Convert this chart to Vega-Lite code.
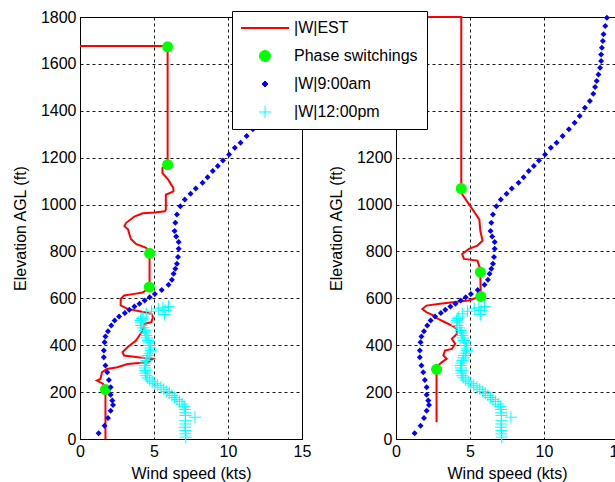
{
  "$schema": "https://vega.github.io/schema/vega-lite/v6.json",
  "background": "white",
  "padding": {"left": 11, "top": 8, "right": 0, "bottom": 0},
  "spacing": 15,
  "datasets": {
    "d": [
      {"p":"L","s":"|W|EST","i":1,"x":0,"y":1676},
      {"p":"L","s":"|W|EST","i":2,"x":5.92,"y":1676},
      {"p":"L","s":"|W|EST","i":3,"x":5.92,"y":1170},
      {"p":"L","s":"|W|EST","i":4,"x":5.57,"y":1156},
      {"p":"L","s":"|W|EST","i":5,"x":5.57,"y":1134},
      {"p":"L","s":"|W|EST","i":6,"x":5.96,"y":1106},
      {"p":"L","s":"|W|EST","i":7,"x":6.31,"y":1070},
      {"p":"L","s":"|W|EST","i":8,"x":6.31,"y":1056},
      {"p":"L","s":"|W|EST","i":9,"x":5.8,"y":1042},
      {"p":"L","s":"|W|EST","i":10,"x":5.8,"y":978},
      {"p":"L","s":"|W|EST","i":11,"x":5.73,"y":971},
      {"p":"L","s":"|W|EST","i":12,"x":5.05,"y":966},
      {"p":"L","s":"|W|EST","i":13,"x":4.24,"y":963},
      {"p":"L","s":"|W|EST","i":14,"x":3.67,"y":949},
      {"p":"L","s":"|W|EST","i":15,"x":3.1,"y":921},
      {"p":"L","s":"|W|EST","i":16,"x":3.0,"y":908},
      {"p":"L","s":"|W|EST","i":17,"x":3.25,"y":893},
      {"p":"L","s":"|W|EST","i":18,"x":3.33,"y":875},
      {"p":"L","s":"|W|EST","i":19,"x":3.44,"y":853},
      {"p":"L","s":"|W|EST","i":20,"x":3.78,"y":832},
      {"p":"L","s":"|W|EST","i":21,"x":4.47,"y":815},
      {"p":"L","s":"|W|EST","i":22,"x":4.7,"y":796},
      {"p":"L","s":"|W|EST","i":23,"x":4.7,"y":647},
      {"p":"L","s":"|W|EST","i":24,"x":4.24,"y":625},
      {"p":"L","s":"|W|EST","i":25,"x":3.56,"y":618},
      {"p":"L","s":"|W|EST","i":26,"x":2.98,"y":612},
      {"p":"L","s":"|W|EST","i":27,"x":2.75,"y":598},
      {"p":"L","s":"|W|EST","i":28,"x":2.75,"y":570},
      {"p":"L","s":"|W|EST","i":29,"x":3.21,"y":555},
      {"p":"L","s":"|W|EST","i":30,"x":4.36,"y":541},
      {"p":"L","s":"|W|EST","i":31,"x":4.82,"y":534},
      {"p":"L","s":"|W|EST","i":32,"x":4.93,"y":520},
      {"p":"L","s":"|W|EST","i":33,"x":4.82,"y":498},
      {"p":"L","s":"|W|EST","i":34,"x":4.36,"y":491},
      {"p":"L","s":"|W|EST","i":35,"x":4.24,"y":463},
      {"p":"L","s":"|W|EST","i":36,"x":3.78,"y":420},
      {"p":"L","s":"|W|EST","i":37,"x":3.21,"y":391},
      {"p":"L","s":"|W|EST","i":38,"x":2.87,"y":370},
      {"p":"L","s":"|W|EST","i":39,"x":2.98,"y":356},
      {"p":"L","s":"|W|EST","i":40,"x":3.9,"y":349},
      {"p":"L","s":"|W|EST","i":41,"x":4.93,"y":342},
      {"p":"L","s":"|W|EST","i":42,"x":4.59,"y":327},
      {"p":"L","s":"|W|EST","i":43,"x":3.21,"y":320},
      {"p":"L","s":"|W|EST","i":44,"x":2.52,"y":306},
      {"p":"L","s":"|W|EST","i":45,"x":1.83,"y":299},
      {"p":"L","s":"|W|EST","i":46,"x":1.49,"y":285},
      {"p":"L","s":"|W|EST","i":47,"x":1.38,"y":256},
      {"p":"L","s":"|W|EST","i":48,"x":1.15,"y":249},
      {"p":"L","s":"|W|EST","i":49,"x":1.38,"y":242},
      {"p":"L","s":"|W|EST","i":50,"x":1.56,"y":235},
      {"p":"L","s":"|W|EST","i":51,"x":1.72,"y":214},
      {"p":"L","s":"|W|EST","i":52,"x":1.72,"y":0},
      {"p":"R","s":"|W|EST","i":1,"x":0,"y":1800},
      {"p":"R","s":"|W|EST","i":2,"x":4.41,"y":1800},
      {"p":"R","s":"|W|EST","i":3,"x":4.41,"y":1068},
      {"p":"R","s":"|W|EST","i":4,"x":4.48,"y":1043},
      {"p":"R","s":"|W|EST","i":5,"x":4.94,"y":1001},
      {"p":"R","s":"|W|EST","i":6,"x":5.63,"y":937},
      {"p":"R","s":"|W|EST","i":7,"x":5.7,"y":887},
      {"p":"R","s":"|W|EST","i":8,"x":5.85,"y":846},
      {"p":"R","s":"|W|EST","i":9,"x":5.5,"y":825},
      {"p":"R","s":"|W|EST","i":10,"x":4.93,"y":811},
      {"p":"R","s":"|W|EST","i":11,"x":4.47,"y":789},
      {"p":"R","s":"|W|EST","i":12,"x":4.59,"y":768},
      {"p":"R","s":"|W|EST","i":13,"x":5.5,"y":761},
      {"p":"R","s":"|W|EST","i":14,"x":5.69,"y":725},
      {"p":"R","s":"|W|EST","i":15,"x":5.69,"y":712},
      {"p":"R","s":"|W|EST","i":16,"x":5.73,"y":609},
      {"p":"R","s":"|W|EST","i":17,"x":4.91,"y":591},
      {"p":"R","s":"|W|EST","i":18,"x":4.0,"y":584},
      {"p":"R","s":"|W|EST","i":19,"x":2.97,"y":577},
      {"p":"R","s":"|W|EST","i":20,"x":2.05,"y":569},
      {"p":"R","s":"|W|EST","i":21,"x":1.78,"y":555},
      {"p":"R","s":"|W|EST","i":22,"x":2.05,"y":541},
      {"p":"R","s":"|W|EST","i":23,"x":2.51,"y":527},
      {"p":"R","s":"|W|EST","i":24,"x":2.85,"y":512},
      {"p":"R","s":"|W|EST","i":25,"x":3.31,"y":498},
      {"p":"R","s":"|W|EST","i":26,"x":3.77,"y":484},
      {"p":"R","s":"|W|EST","i":27,"x":4.11,"y":470},
      {"p":"R","s":"|W|EST","i":28,"x":4.11,"y":448},
      {"p":"R","s":"|W|EST","i":29,"x":3.77,"y":427},
      {"p":"R","s":"|W|EST","i":30,"x":4.0,"y":406},
      {"p":"R","s":"|W|EST","i":31,"x":3.77,"y":384},
      {"p":"R","s":"|W|EST","i":32,"x":3.31,"y":377},
      {"p":"R","s":"|W|EST","i":33,"x":3.2,"y":356},
      {"p":"R","s":"|W|EST","i":34,"x":3.42,"y":342},
      {"p":"R","s":"|W|EST","i":35,"x":3.08,"y":327},
      {"p":"R","s":"|W|EST","i":36,"x":2.85,"y":313},
      {"p":"R","s":"|W|EST","i":37,"x":2.74,"y":297},
      {"p":"R","s":"|W|EST","i":38,"x":2.74,"y":71},
      {"p":"L","s":"Phase switchings","x":5.92,"y":1673},
      {"p":"L","s":"Phase switchings","x":5.92,"y":1170},
      {"p":"L","s":"Phase switchings","x":4.7,"y":792},
      {"p":"L","s":"Phase switchings","x":4.68,"y":648},
      {"p":"L","s":"Phase switchings","x":1.72,"y":211},
      {"p":"R","s":"Phase switchings","x":4.41,"y":1068},
      {"p":"R","s":"Phase switchings","x":5.7,"y":712},
      {"p":"R","s":"Phase switchings","x":5.73,"y":608},
      {"p":"R","s":"Phase switchings","x":2.74,"y":297},
      {"p":"A","s":"|W|9:00am","x":1.26,"y":24},
      {"p":"A","s":"|W|9:00am","x":1.66,"y":57},
      {"p":"A","s":"|W|9:00am","x":1.89,"y":90},
      {"p":"A","s":"|W|9:00am","x":2.07,"y":121},
      {"p":"A","s":"|W|9:00am","x":2.23,"y":145},
      {"p":"A","s":"|W|9:00am","x":2.18,"y":164},
      {"p":"A","s":"|W|9:00am","x":2.07,"y":189},
      {"p":"A","s":"|W|9:00am","x":2.07,"y":221},
      {"p":"A","s":"|W|9:00am","x":1.95,"y":252},
      {"p":"A","s":"|W|9:00am","x":1.84,"y":285},
      {"p":"A","s":"|W|9:00am","x":1.72,"y":313},
      {"p":"A","s":"|W|9:00am","x":1.61,"y":349},
      {"p":"A","s":"|W|9:00am","x":1.61,"y":377},
      {"p":"A","s":"|W|9:00am","x":1.66,"y":413},
      {"p":"A","s":"|W|9:00am","x":1.72,"y":437},
      {"p":"A","s":"|W|9:00am","x":1.89,"y":460},
      {"p":"A","s":"|W|9:00am","x":2.11,"y":484},
      {"p":"A","s":"|W|9:00am","x":2.34,"y":505},
      {"p":"A","s":"|W|9:00am","x":2.64,"y":522},
      {"p":"A","s":"|W|9:00am","x":3.03,"y":537},
      {"p":"A","s":"|W|9:00am","x":3.33,"y":551},
      {"p":"A","s":"|W|9:00am","x":3.68,"y":565},
      {"p":"A","s":"|W|9:00am","x":4.02,"y":577},
      {"p":"A","s":"|W|9:00am","x":4.37,"y":591},
      {"p":"A","s":"|W|9:00am","x":4.71,"y":605},
      {"p":"A","s":"|W|9:00am","x":5.06,"y":619},
      {"p":"A","s":"|W|9:00am","x":5.52,"y":636},
      {"p":"A","s":"|W|9:00am","x":5.98,"y":658},
      {"p":"A","s":"|W|9:00am","x":6.21,"y":679},
      {"p":"A","s":"|W|9:00am","x":6.32,"y":705},
      {"p":"A","s":"|W|9:00am","x":6.44,"y":726},
      {"p":"A","s":"|W|9:00am","x":6.55,"y":747},
      {"p":"A","s":"|W|9:00am","x":6.62,"y":776},
      {"p":"A","s":"|W|9:00am","x":6.67,"y":811},
      {"p":"A","s":"|W|9:00am","x":6.67,"y":840},
      {"p":"A","s":"|W|9:00am","x":6.5,"y":864},
      {"p":"A","s":"|W|9:00am","x":6.39,"y":887},
      {"p":"A","s":"|W|9:00am","x":6.44,"y":922},
      {"p":"A","s":"|W|9:00am","x":6.55,"y":958},
      {"p":"A","s":"|W|9:00am","x":6.78,"y":993},
      {"p":"A","s":"|W|9:00am","x":7.08,"y":1022},
      {"p":"A","s":"|W|9:00am","x":7.47,"y":1046},
      {"p":"A","s":"|W|9:00am","x":7.82,"y":1069},
      {"p":"A","s":"|W|9:00am","x":8.28,"y":1093},
      {"p":"A","s":"|W|9:00am","x":8.62,"y":1117},
      {"p":"A","s":"|W|9:00am","x":8.97,"y":1143},
      {"p":"A","s":"|W|9:00am","x":9.31,"y":1164},
      {"p":"A","s":"|W|9:00am","x":9.66,"y":1188},
      {"p":"A","s":"|W|9:00am","x":10.07,"y":1214},
      {"p":"A","s":"|W|9:00am","x":10.46,"y":1242},
      {"p":"A","s":"|W|9:00am","x":10.85,"y":1264},
      {"p":"A","s":"|W|9:00am","x":11.26,"y":1292},
      {"p":"A","s":"|W|9:00am","x":11.68,"y":1321},
      {"p":"A","s":"|W|9:00am","x":12.07,"y":1349},
      {"p":"A","s":"|W|9:00am","x":12.41,"y":1378},
      {"p":"A","s":"|W|9:00am","x":12.76,"y":1413},
      {"p":"A","s":"|W|9:00am","x":13.1,"y":1442},
      {"p":"A","s":"|W|9:00am","x":13.33,"y":1473},
      {"p":"A","s":"|W|9:00am","x":13.45,"y":1501},
      {"p":"A","s":"|W|9:00am","x":13.56,"y":1527},
      {"p":"A","s":"|W|9:00am","x":13.68,"y":1555},
      {"p":"A","s":"|W|9:00am","x":13.79,"y":1584},
      {"p":"A","s":"|W|9:00am","x":13.86,"y":1612},
      {"p":"A","s":"|W|9:00am","x":13.86,"y":1640},
      {"p":"A","s":"|W|9:00am","x":13.91,"y":1669},
      {"p":"A","s":"|W|9:00am","x":13.98,"y":1698},
      {"p":"A","s":"|W|9:00am","x":14.02,"y":1726},
      {"p":"A","s":"|W|9:00am","x":14.14,"y":1762},
      {"p":"A","s":"|W|9:00am","x":14.25,"y":1797},
      {"p":"A","s":"|W|12:00pm","x":7.15,"y":8},
      {"p":"A","s":"|W|12:00pm","x":7.12,"y":22},
      {"p":"A","s":"|W|12:00pm","x":7.12,"y":36},
      {"p":"A","s":"|W|12:00pm","x":7.1,"y":50},
      {"p":"A","s":"|W|12:00pm","x":7.12,"y":64},
      {"p":"A","s":"|W|12:00pm","x":7.12,"y":78},
      {"p":"A","s":"|W|12:00pm","x":7.77,"y":93},
      {"p":"A","s":"|W|12:00pm","x":7.13,"y":100},
      {"p":"A","s":"|W|12:00pm","x":7.12,"y":112},
      {"p":"A","s":"|W|12:00pm","x":7.1,"y":126},
      {"p":"A","s":"|W|12:00pm","x":7.05,"y":138},
      {"p":"A","s":"|W|12:00pm","x":6.9,"y":149},
      {"p":"A","s":"|W|12:00pm","x":6.72,"y":160},
      {"p":"A","s":"|W|12:00pm","x":6.55,"y":168},
      {"p":"A","s":"|W|12:00pm","x":6.38,"y":177},
      {"p":"A","s":"|W|12:00pm","x":6.21,"y":186},
      {"p":"A","s":"|W|12:00pm","x":6.03,"y":195},
      {"p":"A","s":"|W|12:00pm","x":5.86,"y":203},
      {"p":"A","s":"|W|12:00pm","x":5.66,"y":212},
      {"p":"A","s":"|W|12:00pm","x":5.47,"y":221},
      {"p":"A","s":"|W|12:00pm","x":5.25,"y":229},
      {"p":"A","s":"|W|12:00pm","x":5.06,"y":236},
      {"p":"A","s":"|W|12:00pm","x":4.88,"y":244},
      {"p":"A","s":"|W|12:00pm","x":4.71,"y":252},
      {"p":"A","s":"|W|12:00pm","x":4.58,"y":261},
      {"p":"A","s":"|W|12:00pm","x":4.48,"y":270},
      {"p":"A","s":"|W|12:00pm","x":4.42,"y":281},
      {"p":"A","s":"|W|12:00pm","x":4.41,"y":292},
      {"p":"A","s":"|W|12:00pm","x":4.39,"y":303},
      {"p":"A","s":"|W|12:00pm","x":4.37,"y":313},
      {"p":"A","s":"|W|12:00pm","x":4.42,"y":324},
      {"p":"A","s":"|W|12:00pm","x":4.48,"y":335},
      {"p":"A","s":"|W|12:00pm","x":4.55,"y":346},
      {"p":"A","s":"|W|12:00pm","x":4.6,"y":356},
      {"p":"A","s":"|W|12:00pm","x":4.7,"y":366},
      {"p":"A","s":"|W|12:00pm","x":4.78,"y":377},
      {"p":"A","s":"|W|12:00pm","x":4.76,"y":388},
      {"p":"A","s":"|W|12:00pm","x":4.71,"y":399},
      {"p":"A","s":"|W|12:00pm","x":4.66,"y":410},
      {"p":"A","s":"|W|12:00pm","x":4.6,"y":420},
      {"p":"A","s":"|W|12:00pm","x":4.54,"y":431},
      {"p":"A","s":"|W|12:00pm","x":4.48,"y":441},
      {"p":"A","s":"|W|12:00pm","x":4.42,"y":452},
      {"p":"A","s":"|W|12:00pm","x":4.37,"y":463},
      {"p":"A","s":"|W|12:00pm","x":4.28,"y":474},
      {"p":"A","s":"|W|12:00pm","x":4.14,"y":484},
      {"p":"A","s":"|W|12:00pm","x":4.1,"y":495},
      {"p":"A","s":"|W|12:00pm","x":4.09,"y":505},
      {"p":"A","s":"|W|12:00pm","x":4.18,"y":514},
      {"p":"A","s":"|W|12:00pm","x":4.25,"y":520},
      {"p":"A","s":"|W|12:00pm","x":4.48,"y":534},
      {"p":"A","s":"|W|12:00pm","x":4.83,"y":545},
      {"p":"A","s":"|W|12:00pm","x":5.29,"y":555},
      {"p":"A","s":"|W|12:00pm","x":5.75,"y":548},
      {"p":"A","s":"|W|12:00pm","x":5.98,"y":565},
      {"p":"A","s":"|W|12:00pm","x":5.7,"y":531},
      {"p":"A","s":"|W|12:00pm","x":5.6,"y":560}
    ]
  },
  "hconcat": [
    {
      "width": 222,
      "height": 422,
      "data": {"name": "d"},
      "transform": [{"filter": "datum.p == 'L' || datum.p == 'A'"}],
      "encoding": {
        "x": {"field": "x", "type": "quantitative", "scale": {"domain": [0, 15], "nice": false, "zero": false}, "axis": {"values": [0, 5, 10, 15], "format": "d", "title": "Wind speed (kts)"}},
        "y": {"field": "y", "type": "quantitative", "scale": {"domain": [0, 1800], "nice": false}, "axis": {"values": [0, 200, 400, 600, 800, 1000, 1200, 1400, 1600, 1800], "format": "d", "title": "Elevation AGL (ft)"}}
      },
      "layer": [
        {
          "transform": [{"filter": "datum.s == '|W|EST'"}],
          "mark": {"type": "line", "strokeWidth": 2},
          "encoding": {
            "order": {"field": "i", "type": "quantitative"},
            "color": {
              "field": "s", "type": "nominal",
              "scale": {"domain": ["|W|EST", "Phase switchings", "|W|9:00am", "|W|12:00pm"], "range": ["#ff0000", "#00ff00", "#0000ff", "#00ffff"]},
              "legend": {
                "title": null,
                "orient": "none",
                "legendX": 152,
                "legendY": -6,
                "direction": "vertical",
                "padding": 9,
                "fillColor": "white",
                "strokeColor": "black",
                "cornerRadius": 0,
                "labelFont": "Liberation Sans",
                "labelFontSize": 16,
                "labelColor": "black",
                "labelLimit": 300,
                "symbolOffset": 16,
                "labelOffset": 21,
                "rowPadding": 12,
                "encode": {
                  "symbols": {
                    "update": {
                      "shape": {"signal": "datum.value == '|W|EST' ? 'stroke' : datum.value == 'Phase switchings' ? 'circle' : datum.value == '|W|9:00am' ? 'diamond' : 'M-1,0H1M0,-1V1'"},
                      "size": {"signal": "datum.value == '|W|EST' ? 2304 : datum.value == 'Phase switchings' ? 121 : datum.value == '|W|9:00am' ? 36 : 144"},
                      "fill": {"signal": "datum.value == 'Phase switchings' ? '#00ff00' : datum.value == '|W|9:00am' ? '#0000ff' : 'transparent'"},
                      "stroke": {"signal": "datum.value == '|W|EST' ? '#ff0000' : datum.value == '|W|12:00pm' ? '#00ffff' : 'transparent'"},
                      "strokeWidth": {"signal": "datum.value == '|W|EST' ? 2 : 1"},
                      "opacity": {"value": 1}
                    }
                  }
                }
              }
            }
          }
        },
        {
          "transform": [{"filter": "datum.s == 'Phase switchings'"}],
          "mark": {"type": "point", "shape": "circle", "filled": true, "color": "#00ff00", "size": 121, "opacity": 1}
        },
        {
          "transform": [{"filter": "datum.s == '|W|9:00am'"}],
          "mark": {"type": "point", "shape": "diamond", "filled": true, "color": "#0000ff", "size": 36, "opacity": 1}
        },
        {
          "transform": [{"filter": "datum.s == '|W|12:00pm'"}],
          "mark": {"type": "point", "shape": "M-1,0H1M0,-1V1", "filled": false, "color": "#00ffff", "strokeWidth": 1, "size": 144, "opacity": 1}
        }
      ]
    },
    {
      "width": 222,
      "height": 422,
      "data": {"name": "d"},
      "transform": [{"filter": "datum.p == 'R' || datum.p == 'A'"}],
      "encoding": {
        "x": {"field": "x", "type": "quantitative", "scale": {"domain": [0, 15], "nice": false, "zero": false}, "axis": {"values": [0, 5, 10, 15], "format": "d", "title": "Wind speed (kts)"}},
        "y": {"field": "y", "type": "quantitative", "scale": {"domain": [0, 1800], "nice": false}, "axis": {"values": [0, 200, 400, 600, 800, 1000, 1200, 1400, 1600, 1800], "format": "d", "title": "Elevation AGL (ft)"}}
      },
      "layer": [
        {
          "transform": [{"filter": "datum.s == '|W|EST'"}],
          "mark": {"type": "line", "strokeWidth": 2, "color": "#ff0000"},
          "encoding": {"order": {"field": "i", "type": "quantitative"}}
        },
        {
          "transform": [{"filter": "datum.s == 'Phase switchings'"}],
          "mark": {"type": "point", "shape": "circle", "filled": true, "color": "#00ff00", "size": 121, "opacity": 1}
        },
        {
          "transform": [{"filter": "datum.s == '|W|9:00am'"}],
          "mark": {"type": "point", "shape": "diamond", "filled": true, "color": "#0000ff", "size": 36, "opacity": 1}
        },
        {
          "transform": [{"filter": "datum.s == '|W|12:00pm'"}],
          "mark": {"type": "point", "shape": "M-1,0H1M0,-1V1", "filled": false, "color": "#00ffff", "strokeWidth": 1, "size": 144, "opacity": 1}
        }
      ]
    }
  ],
  "config": {
    "view": {"stroke": "#000000", "strokeWidth": 1},
    "font": "Liberation Sans",
    "axis": {
      "labelFont": "Liberation Sans",
      "labelFontSize": 16,
      "labelColor": "#000000",
      "titleFont": "Liberation Sans",
      "titleFontSize": 16,
      "titleFontWeight": "normal",
      "titleColor": "#000000",
      "domainColor": "#000000",
      "ticks": false,
      "labelPadding": 4,
      "grid": true,
      "gridColor": "#000000",
      "gridDash": [3, 3],
      "gridOpacity": 0.9,
      "labelFlush": false,
      "labelOverlap": false
    },
    "axisX": {"titlePadding": 6},
    "axisY": {"titlePadding": 12}
  }
}
